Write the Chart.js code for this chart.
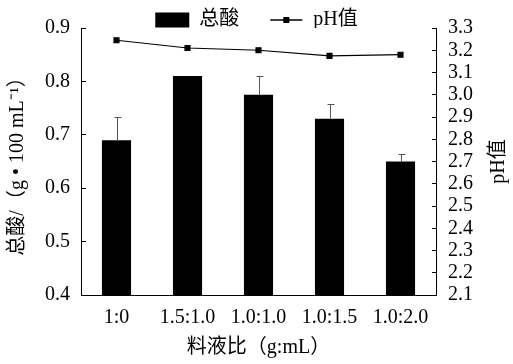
<!DOCTYPE html>
<html>
<head>
<meta charset="utf-8">
<script src="https://cdn.jsdelivr.net/npm/chart.js@4.4.0/dist/chart.umd.min.js"></script>
<style>
  html, body { margin: 0; padding: 0; background: #fff; }
</style>
</head>
<body>
<canvas id="chart" width="513" height="364"></canvas>
<script>
const ratios = ['1:0', '1.5:1.0', '1.0:1.0', '1.0:1.5', '1.0:2.0'];
const totalAcid = [0.69, 0.81, 0.775, 0.73, 0.65];
const acidErr = [0.043, 0, 0.035, 0.028, 0.014];
const phValues = [3.245, 3.21, 3.2, 3.175, 3.18];

const FONT = "'Liberation Serif', 'Noto Sans CJK SC', serif";

// legend icon for the pH line: short line with square marker
const lineIcon = document.createElement('canvas');
lineIcon.width = 34;
lineIcon.height = 8;
const ic = lineIcon.getContext('2d');
ic.strokeStyle = '#000';
ic.lineWidth = 1.5;
ic.beginPath();
ic.moveTo(1, 4);
ic.lineTo(33, 4);
ic.stroke();
ic.fillStyle = '#000';
ic.fillRect(14, 1, 6, 6);

// upper error bars on the columns
const errorBars = {
  id: 'errorBars',
  afterDatasetsDraw(chart) {
    const meta = chart.getDatasetMeta(0);
    const yScale = chart.scales.y;
    const c = chart.ctx;
    c.save();
    c.strokeStyle = '#555';
    c.lineWidth = 1;
    meta.data.forEach((bar, i) => {
      if (!acidErr[i]) return;
      const top = Math.round(yScale.getPixelForValue(totalAcid[i] + acidErr[i])) + 0.5;
      const x = Math.round(bar.x) + 0.5;
      c.beginPath();
      c.moveTo(x, bar.y);
      c.lineTo(x, top);
      c.moveTo(x - 3, top);
      c.lineTo(x + 4, top);
      c.stroke();
    });
    c.restore();
  }
};

// right axis title, read bottom to top like the left one
const rightTitle = {
  id: 'rightTitle',
  afterDraw(chart) {
    const s = chart.scales.y1;
    const c = chart.ctx;
    c.save();
    c.translate(s.right - 14, (s.top + s.bottom) / 2);
    c.rotate(-Math.PI / 2);
    c.fillStyle = '#000';
    c.font = '20px ' + FONT;
    c.textAlign = 'center';
    c.textBaseline = 'middle';
    c.fillText('pH值', 0, 0);
    c.restore();
  }
};

const chart = new Chart(document.getElementById('chart').getContext('2d'), {
  data: {
    labels: ratios,
    datasets: [{
      type: 'bar',
      label: '总酸',
      data: totalAcid,
      backgroundColor: '#000',
      borderWidth: 0,
      categoryPercentage: 1,
      barPercentage: 0.41,
      yAxisID: 'y',
      order: 2
    }, {
      type: 'line',
      label: 'pH值',
      data: phValues,
      borderColor: '#000',
      backgroundColor: '#000',
      borderWidth: 1.2,
      pointStyle: 'rect',
      pointRadius: 3.5,
      pointHoverRadius: 3.5,
      tension: 0,
      yAxisID: 'y1',
      order: 1
    }]
  },
  options: {
    responsive: false,
    animation: false,
    layout: { padding: { top: -29, left: 0, right: 0, bottom: 0 } },
    plugins: {
      tooltip: { enabled: false },
      legend: {
        position: 'top',
        maxHeight: 48,
        labels: {
          usePointStyle: true,
          pointStyleWidth: 34,
          boxHeight: 15,
          padding: 30,
          color: '#000',
          font: { family: FONT, size: 20 },
          sort: (a, b) => a.datasetIndex - b.datasetIndex,
          generateLabels(chart) {
            const items = Chart.defaults.plugins.legend.labels.generateLabels(chart);
            items.forEach(it => {
              it.pointStyle = it.datasetIndex === 0 ? 'rect' : lineIcon;
            });
            return items;
          }
        }
      }
    },
    scales: {
      x: {
        grid: { display: false, drawTicks: false },
        border: { color: '#000', width: 1 },
        ticks: { color: '#000', padding: 11, font: { family: FONT, size: 20 } },
        title: {
          display: true,
          text: '料液比（g:mL）',
          color: '#000',
          padding: { top: 0, bottom: 4 },
          font: { family: FONT, size: 20 }
        },
        afterFit(s) { s.height = 69; }
      },
      y: {
        position: 'left',
        min: 0.4,
        max: 0.9,
        grid: { drawOnChartArea: false, tickLength: -5, color: '#000' },
        border: { color: '#000', width: 1 },
        ticks: {
          stepSize: 0.1,
          color: '#000',
          padding: 16,
          font: { family: FONT, size: 20 },
          callback: v => v.toFixed(1)
        },
        title: {
          display: true,
          text: '总酸/（g • 100 mL⁻¹）',
          color: '#000',
          padding: { top: 6, bottom: 0 },
          font: { family: FONT, size: 20 }
        },
        afterFit(s) { s.width = 81; }
      },
      y1: {
        position: 'right',
        min: 2.1,
        max: 3.3,
        grid: { drawOnChartArea: false, tickLength: -4, color: '#000' },
        border: { color: '#000', width: 1 },
        ticks: {
          stepSize: 0.1,
          autoSkip: false,
          color: '#000',
          padding: 16,
          font: { family: FONT, size: 20 },
          callback: v => v.toFixed(1)
        },
        afterFit(s) { s.width = 77; }
      }
    }
  },
  plugins: [errorBars, rightTitle]
});
</script>
</body>
</html>
